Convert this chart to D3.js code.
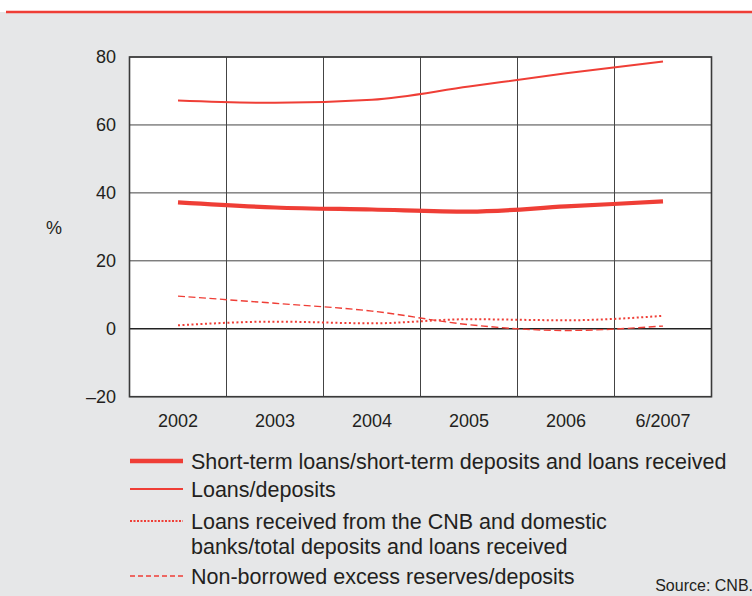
<!DOCTYPE html>
<html><head><meta charset="utf-8">
<script src="https://cdn.jsdelivr.net/npm/d3@7"></script>
<style>body{margin:0;background:#fff}svg{display:block}text{font-family:"Liberation Sans",Arial,sans-serif;fill:#231f20}</style>
</head><body><svg id="c" width="752" height="596"></svg>
<script>
const categories = ["2002","2003","2004","2005","2006","6/2007"];
const shortTerm = [37.2, 35.7, 35.1, 34.5, 36.0, 37.5];
const loansDeposits = [67.2, 66.5, 67.4, 71.3, 75.2, 78.7];
const loansCNB = [1.0, 2.1, 1.6, 2.8, 2.5, 3.8];
const excessReserves = [9.6, 7.5, 5.2, 1.2, -0.5, 0.8];
const yTicks = [80, 60, 40, 20, 0, -20];
const legendLabels = [
  ["Short-term loans/short-term deposits and loans received"],
  ["Loans/deposits"],
  ["Loans received from the CNB and domestic", "banks/total deposits and loans received"],
  ["Non-borrowed excess reserves/deposits"]
];

const red = "#ef3e36";
const svg = d3.select("#c");
svg.append("rect").attr("x",0).attr("y",12).attr("width",752).attr("height",584).attr("fill","#e6e7e8");
svg.append("line").attr("x1",6).attr("x2",752).attr("y1",12).attr("y2",12).attr("stroke",red).attr("stroke-width",2.5);

const L=129.5, R=711.5, T=57, B=396.7;
const x = d3.scaleBand().domain(categories).range([L,R]);
const y = d3.scaleLinear().domain([-20,80]).range([B,T]);
const cx = c => x(c) + x.bandwidth()/2;

svg.append("rect").attr("x",L).attr("y",T).attr("width",R-L).attr("height",B-T).attr("fill","#fff");
const g = svg.append("g");
g.selectAll(".h").data(yTicks).join("line")
  .attr("x1",L).attr("x2",R).attr("y1",d=>y(d)).attr("y2",d=>y(d))
  .attr("stroke", d=> d===0 ? "#222" : "#444").attr("stroke-width", d=> d===0 ? 1.6 : 1);
g.selectAll(".v").data(categories.slice(1)).join("line")
  .attr("x1",d=>x(d)).attr("x2",d=>x(d)).attr("y1",T).attr("y2",B)
  .attr("stroke","#444").attr("stroke-width",1);
svg.append("rect").attr("x",L).attr("y",T).attr("width",R-L).attr("height",B-T)
  .attr("fill","none").attr("stroke","#3a3a3a").attr("stroke-width",1.6);

svg.selectAll(".yl").data(yTicks).join("text")
  .attr("x",116).attr("y",d=>y(d)).attr("dy","0.36em").attr("text-anchor","end")
  .attr("font-size",18).text(d=> d<0 ? "\u2013"+Math.abs(d) : d);
svg.append("text").attr("x",54).attr("y",228).attr("dy","0.36em").attr("text-anchor","middle").attr("font-size",18).text("%");
svg.selectAll(".xl").data(categories).join("text")
  .attr("x",d=>cx(d)).attr("y",421).attr("dy","0.36em").attr("text-anchor","middle").attr("font-size",18).text(d=>d);

const line = d3.line().x((d,i)=>cx(categories[i])).y(d=>y(d)).curve(d3.curveMonotoneX);
const series = [
  {v:shortTerm, w:4.2, dash:null},
  {v:loansDeposits, w:2, dash:null},
  {v:loansCNB, w:2, dash:"2,2.5"},
  {v:excessReserves, w:1.4, dash:"7,3.5"}
];
series.forEach(s=>{
  svg.append("path").attr("d",line(s.v)).attr("fill","none").attr("stroke",red)
    .attr("stroke-width",s.w).attr("stroke-dasharray",s.dash);
});

const legRows = [461, 489, 521, 576];
series.forEach((s,i)=>{
  svg.append("line").attr("x1",130).attr("x2",183).attr("y1",legRows[i]).attr("y2",legRows[i])
    .attr("stroke",red).attr("stroke-width", i===0?4.5:(i===3?1.4:2)).attr("stroke-dasharray", i===2?"2,1.5":(i===3?"5,3":null));
  legendLabels[i].forEach((t,j)=>{
    svg.append("text").attr("x",191).attr("y",legRows[i]+j*25.5).attr("dy","0.36em")
      .attr("font-size",21.5).text(t);
  });
});
svg.append("text").attr("x",753).attr("y",585).attr("dy","0.36em").attr("text-anchor","end").attr("font-size",16).text("Source: CNB.");
</script></body></html>
